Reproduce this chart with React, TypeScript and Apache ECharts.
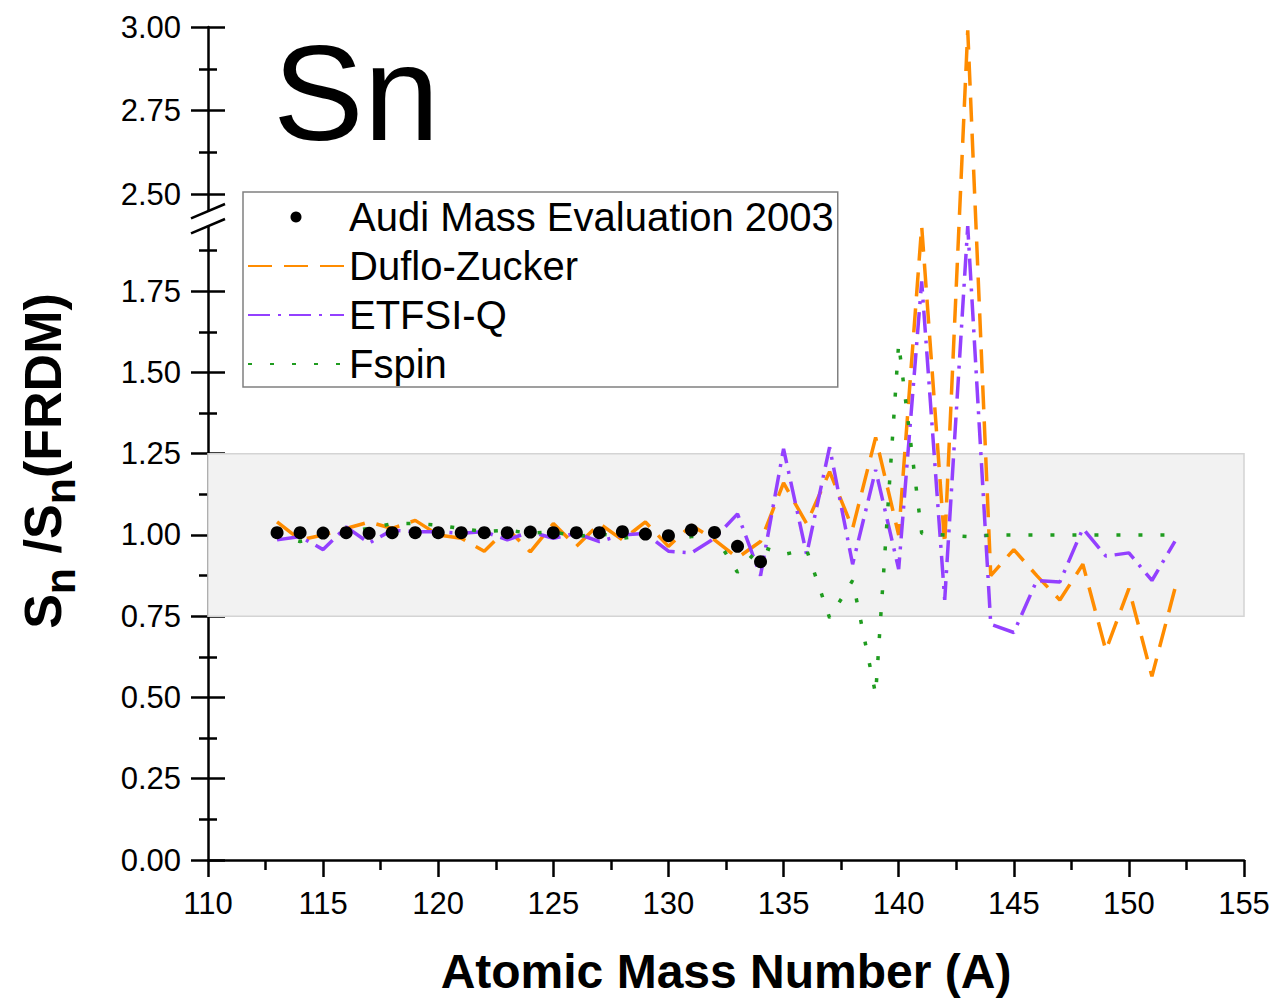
import React, { useEffect, useRef } from "react";
import * as echarts from "echarts";

// ---------------- data ----------------
const massNumbers = [
  113, 114, 115, 116, 117, 118, 119, 120, 121, 122, 123, 124, 125, 126, 127, 128, 129, 130, 131, 132,
  133, 134, 135, 136, 137, 138, 139, 140, 141, 142, 143, 144, 145, 146, 147, 148, 149, 150, 151, 152,
];
const audiMass = [
  113, 114, 115, 116, 117, 118, 119, 120, 121, 122, 123, 124, 125, 126, 127, 128, 129, 130, 131, 132,
  133, 134,
];
const audiRatio = [
  1.007, 1.007, 1.006, 1.007, 1.005, 1.007, 1.007, 1.007, 1.007, 1.007, 1.007, 1.009, 1.007, 1.007,
  1.007, 1.01, 1.003, 0.998, 1.015, 1.008, 0.965, 0.918,
];
const dufloZucker = [
  1.04, 0.985, 1.0, 1.02, 1.04, 1.02, 1.045, 1.0, 0.99, 0.95, 1.02, 0.948, 1.035, 0.965, 1.035, 0.985,
  1.04, 0.965, 1.03, 0.985, 0.93, 0.98, 1.16, 1.035, 1.195, 1.02, 1.3, 1.0, 1.95, 0.97, 2.99, 0.875,
  0.955, 0.875, 0.8, 0.91, 0.645, 0.835, 0.565, 0.835,
];
const etfsiQ = [
  0.985, 0.995, 0.955, 1.025, 0.975, 1.015, 1.01, 1.01, 1.005, 1.01, 0.985, 1.01, 0.99, 1.005, 0.98,
  1.0, 1.005, 0.95, 0.945, 0.99, 1.065, 0.875, 1.265, 0.94, 1.27, 0.91, 1.2, 0.895, 1.78, 0.8, 1.95,
  0.725, 0.7, 0.86, 0.855, 1.02, 0.935, 0.945, 0.86, 0.98,
];
const fspin = [
  1.0, 0.98, 0.995, 1.01, 1.02, 1.035, 1.035, 1.03, 1.02, 1.01, 1.015, 1.005, 1.01, 0.995, 1.005, 0.99,
  1.0, 0.985, 0.995, 1.0, 0.885, 0.965, 0.94, 0.955, 0.745, 0.86, 0.51, 1.59, 1.005, 1.0, 0.995, 1.0,
  1.0, 1.0, 1.0, 1.0, 1.0, 1.0, 1.0, 1.0,
];
const seriesNames = ["Audi Mass Evaluation 2003", "Duflo-Zucker", "ETFSI-Q", "Fspin"];
const yMajorTicks = [0, 0.25, 0.5, 0.75, 1.0, 1.25, 1.5, 1.75, 2.5, 2.75, 3.0];
const yMinorTicks = [0.125, 0.375, 0.625, 0.875, 1.125, 1.375, 1.625, 1.875, 2.625, 2.875];
const bandRange = [0.75, 1.25];
const xRange = [110, 155];

// ---------------- broken y axis mapping ----------------
const BREAK_LO = 1.95;
const BREAK_HI = 2.45;
const UPPER_REF = 2.5;
const UPPER_REF_DISP = 2.0477;
const UPPER_SCALE = 1.0305;
function toDisp(v: number): number {
  if (v <= BREAK_LO) return v;
  const dHi = UPPER_REF_DISP + (BREAK_HI - UPPER_REF) * UPPER_SCALE;
  if (v < BREAK_HI) return BREAK_LO + ((v - BREAK_LO) * (dHi - BREAK_LO)) / (BREAK_HI - BREAK_LO);
  return UPPER_REF_DISP + (v - UPPER_REF) * UPPER_SCALE;
}
function fromDisp(d: number): number {
  if (d <= BREAK_LO) return d;
  const dHi = toDisp(BREAK_HI);
  if (d < dHi) return BREAK_LO + ((d - BREAK_LO) * (BREAK_HI - BREAK_LO)) / (dHi - BREAK_LO);
  return UPPER_REF + (d - UPPER_REF_DISP) / UPPER_SCALE;
}
const Y_MAX = toDisp(3.0);

const FONT = "'Liberation Sans', Arial, Helvetica, sans-serif";
const ORANGE = "#ff8c00";
const PURPLE = "#9340ff";
const GREEN = "#1f9c1f";

export default function App() {
  const ref = useRef<HTMLDivElement>(null);
  useEffect(() => {
    if (!ref.current) return;
    const chart = echarts.init(ref.current, undefined, { renderer: "svg" });
    const majorDisp = yMajorTicks.map(toDisp);
    const minorDisp = yMinorTicks.map(toDisp);
    const tickLine = { color: "#000", width: 2.5 };
    const hiddenY = (inside: boolean, values: number[], len: number) => ({
      type: "value",
      position: "left",
      offset: 0,
      min: 0,
      max: Y_MAX,
      axisLine: { show: false, onZero: false },
      axisLabel: { show: false },
      splitLine: { show: false },
      axisTick: { show: true, inside, length: len, customValues: values, lineStyle: tickLine },
    });
    const lineSeries = (name: string, vals: number[], color: string, type: any, z: number) => ({
      type: "line",
      name,
      data: massNumbers.map((a, i) => [a, toDisp(vals[i])]),
      symbol: "none",
      showSymbol: false,
      z,
      lineStyle: { color, width: 3.5, type },
      itemStyle: { color },
    });
    const option: any = {
      animation: false,
      backgroundColor: "#fff",
      grid: { left: 208, width: 1036, top: 27, height: 833, containLabel: false, outerBoundsMode: "none" },
      xAxis: {
        type: "value",
        min: xRange[0],
        max: xRange[1],
        interval: 5,
        axisLine: { show: true, onZero: false, lineStyle: { color: "#000", width: 2.5 } },
        axisTick: { show: true, length: 17, lineStyle: tickLine },
        minorTick: { show: true, splitNumber: 2, length: 10, lineStyle: tickLine },
        axisLabel: { fontSize: 31, color: "#000", fontFamily: FONT, margin: 28 },
        splitLine: { show: false },
        name: "Atomic Mass Number (A)",
        nameLocation: "middle",
        nameGap: 87,
        nameTextStyle: { fontSize: 48, fontWeight: "bold", color: "#000", fontFamily: FONT },
      },
      yAxis: [
        {
          type: "value",
          position: "left",
          offset: 0,
          min: 0,
          max: Y_MAX,
          axisLine: { show: true, onZero: false, lineStyle: { color: "#000", width: 2.5 } },
          axisTick: { show: true, inside: false, length: 17, customValues: majorDisp, lineStyle: tickLine },
          axisLabel: {
            show: true,
            customValues: majorDisp,
            fontSize: 31,
            color: "#000",
            fontFamily: FONT,
            margin: 27,
            formatter: (v: number) => fromDisp(v).toFixed(2),
          },
          splitLine: { show: false },
        },
        hiddenY(true, majorDisp, 17),
        hiddenY(false, minorDisp, 9),
        hiddenY(true, minorDisp, 9),
      ],
      legend: {
        data: [
          { name: seriesNames[0] },
          { name: seriesNames[1], itemStyle: { opacity: 0 } },
          { name: seriesNames[2], itemStyle: { opacity: 0 } },
          { name: seriesNames[3], itemStyle: { opacity: 0 } },
        ],
        orient: "vertical",
        left: 243,
        top: 192,
        itemWidth: 96,
        itemHeight: 11,
        itemGap: 5,
        padding: [3, 4, 1, 4],
        borderColor: "#808080",
        borderWidth: 1.5,
        backgroundColor: "#fff",
        selectedMode: false,
        textStyle: { fontSize: 40, lineHeight: 44, color: "#000", fontFamily: FONT },
      },
      series: [
        {
          ...lineSeries(seriesNames[1], dufloZucker, ORANGE, [24, 12], 3),
          markArea: {
            silent: true,
            itemStyle: { color: "#f2f2f2", borderColor: "#d4d4d4", borderWidth: 1.5 },
            data: [[{ xAxis: xRange[0], yAxis: bandRange[0] }, { xAxis: xRange[1], yAxis: bandRange[1] }]],
          },
        },
        lineSeries(seriesNames[2], etfsiQ, PURPLE, [22, 8, 3, 8], 4),
        lineSeries(seriesNames[3], fspin, GREEN, [4, 18], 5),
        {
          type: "scatter",
          name: seriesNames[0],
          data: audiMass.map((a, i) => [a, toDisp(audiRatio[i])]),
          symbol: "circle",
          symbolSize: 13,
          itemStyle: { color: "#000", opacity: 1 },
          z: 6,
        },
      ],
    };
    chart.setOption(option);

    const ax = chart.convertToPixel({ xAxisIndex: 0 }, xRange[0]) as number;
    const yHi = chart.convertToPixel({ yAxisIndex: 0 }, toDisp(BREAK_HI)) as number;
    const yLo = chart.convertToPixel({ yAxisIndex: 0 }, toDisp(BREAK_LO)) as number;
    const slash = (yc: number) => ({
      type: "line",
      z: 101,
      shape: { x1: ax - 17, y1: yc + 7.2, x2: ax + 17, y2: yc - 7.2 },
      style: { stroke: "#000", lineWidth: 2.5 },
    });
    chart.setOption({
      graphic: [
        {
          type: "rect",
          z: 100,
          shape: { x: ax - 6, y: yHi, width: 12, height: yLo - yHi },
          style: { fill: "#fff" },
        },
        slash(yHi),
        slash(yLo),
        {
          type: "text",
          x: 273,
          y: 25,
          z: 100,
          style: { text: "Sn", fontSize: 136, fontFamily: FONT, fill: "#000", align: "left", verticalAlign: "top" },
        },
        {
          type: "text",
          x: 49,
          y: 461,
          rotation: Math.PI / 2,
          z: 100,
          style: {
            text: "{m|S}{s|n}{m| /S}{s|n}{m|(FRDM)}",
            align: "center",
            verticalAlign: "middle",
            fill: "#000",
            rich: {
              m: { fontSize: 52, fontWeight: "bold", fontFamily: FONT, lineHeight: 52, verticalAlign: "top", fill: "#000" },
              s: { fontSize: 43, fontWeight: "bold", fontFamily: FONT, lineHeight: 64, verticalAlign: "bottom", fill: "#000" },
            },
          },
        },
      ],
    });
    return () => chart.dispose();
  }, []);
  return (
    <div
      ref={ref}
      style={{ position: "fixed", left: 0, top: 0, width: 1276, height: 998, background: "#fff" }}
    />
  );
}
